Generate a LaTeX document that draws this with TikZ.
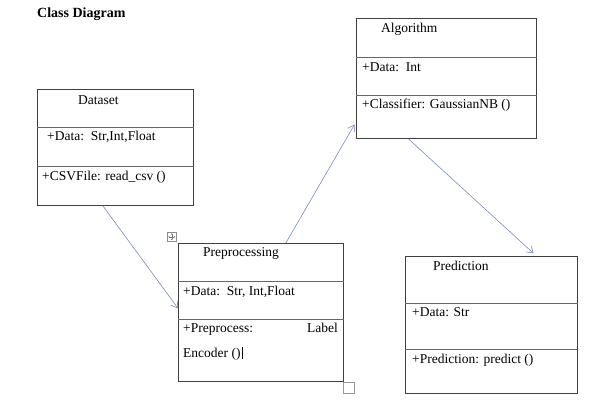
\documentclass[tikz,border=0pt]{standalone}
\usepackage{fontspec}
\setmainfont{Liberation Serif}
\usetikzlibrary{calc,arrows.meta}
\begin{document}
\begin{tikzpicture}[x=1pt,y=-1pt,
  cls/.style={draw=black!75,line width=0.9pt,inner sep=0pt,anchor=north west},
  sep/.style={draw=black!60,line width=0.8pt},
  txt/.style={anchor=base west,inner sep=0pt,font=\fontsize{13.5}{16}\selectfont},
  flow/.style={draw={rgb,255:red,125;green,140;blue,180},line width=0.6pt,-{Straight Barb[length=6pt,width=8pt]}},
  handle/.style={draw=black!45,line width=0.5pt,fill=white,inner sep=0pt,minimum size=9pt,anchor=north west},
  harr/.style={black!55,line width=0.35pt,-{Triangle[length=1pt,width=1.6pt]}}]
\useasboundingbox (0,0) rectangle (591,410);
\fill[white] (0,0) rectangle (591,410);
\node[anchor=base west,inner sep=0pt,font=\fontsize{14}{16}\bfseries\selectfont] (title) at (37,17) {Class Diagram};

% Dataset
\node[cls,minimum width=156pt,minimum height=116pt] (ds) at (37,89) {};
\draw[sep] ($(ds.north west)+(0,38)$) -- ($(ds.north east)+(0,38)$);
\draw[sep] ($(ds.north west)+(0,77)$) -- ($(ds.north east)+(0,77)$);
\node[txt] (dst) at (78,104) {Dataset};
\node[txt] (dsa) at (47,140) {+Data:\ \ Str,Int,Float};
\node[txt] (dsm) at (42,180) {+CSVFile: read\_csv ()};

% Algorithm
\node[cls,minimum width=180pt,minimum height=120pt] (alg) at (356,18) {};
\draw[sep] ($(alg.north west)+(0,39)$) -- ($(alg.north east)+(0,39)$);
\draw[sep] ($(alg.north west)+(0,77)$) -- ($(alg.north east)+(0,77)$);
\node[txt] (algt) at (381,32) {Algorithm};
\node[txt] (alga) at (362,71) {+Data:\ \ Int};
\node[txt] (algm) at (362,108) {+Classifier: GaussianNB ()};

% Preprocessing
\node[cls,minimum width=165pt,minimum height=138pt] (pp) at (178,243) {};
\draw[sep] ($(pp.north west)+(0,38)$) -- ($(pp.north east)+(0,38)$);
\draw[sep] ($(pp.north west)+(0,76)$) -- ($(pp.north east)+(0,76)$);
\node[txt] (ppt) at (203,256) {Preprocessing};
\node[txt] (ppa) at (183,295) {+Data:\ \ Str, Int,Float};
\node[txt] (ppm) at (183,332) {+Preprocess:};
\node[txt,anchor=base east] (ppl) at (338,332) {Label};
\node[txt] (ppe) at (183,357) {Encoder ()};
\draw[line width=1.2pt] ($(ppe.base east)+(1.5,2)$) -- ++(0,-12);
\node[handle] (mv) at (167,232) {};
\draw[harr] (mv.center) -- ++(0,-3.4);
\draw[harr] (mv.center) -- ++(0,3.4);
\draw[harr] (mv.center) -- ++(-3.4,0);
\draw[harr] (mv.center) -- ++(3.4,0);
\node[handle,minimum size=11pt,draw=black!40] (rs) at (343,382) {};

% Prediction
\node[cls,minimum width=172pt,minimum height=137pt] (pr) at (405,256) {};
\draw[sep] ($(pr.north west)+(0,47)$) -- ($(pr.north east)+(0,47)$);
\draw[sep] ($(pr.north west)+(0,93)$) -- ($(pr.north east)+(0,93)$);
\node[txt] (prt) at (433,270) {Prediction};
\node[txt] (pra) at (412,316) {+Data: Str};
\node[txt] (prm) at (412,363) {+Prediction: predict ()};

% connectors
\path[flow] ($(ds.south west)!0.42!(ds.south east)$) -- ($(pp.north west)!0.47!(pp.south west)$);
\path[flow,shorten >=3pt] ($(pp.north west)!0.65!(pp.north east)$) -- ($(alg.north west)!0.86!(alg.south west)$);
\path[flow,shorten >=4pt] ($(alg.south west)!0.29!(alg.south east)$) -- ($(pr.north west)!0.76!(pr.north east)$);
\end{tikzpicture}
\end{document}
